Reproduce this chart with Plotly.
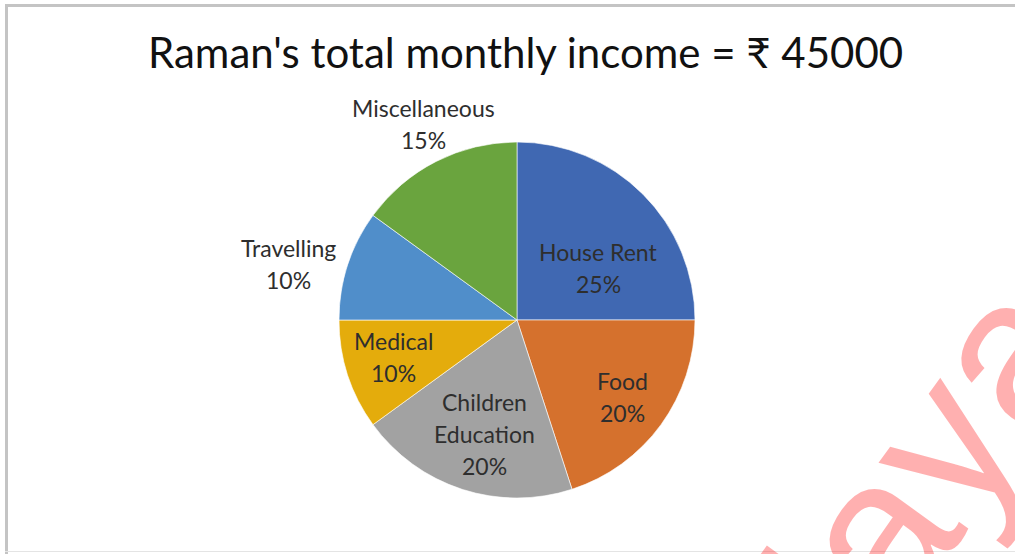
import plotly.graph_objects as go

# Expense shares of the monthly income (percent)
categories = ["House Rent", "Food", "Children Education", "Medical", "Travelling", "Miscellaneous"]
shares = [25, 20, 20, 10, 10, 15]
colors = ["#4068B2", "#D5712D", "#A2A2A2", "#E4AC0C", "#508ECA", "#6AA43E"]

# Label lines and their anchor points (pixels) for each category
label_lines = {
    "House Rent": ["House Rent"],
    "Food": ["Food"],
    "Children Education": ["Children", "Education"],
    "Medical": ["Medical"],
    "Travelling": ["Travelling"],
    "Miscellaneous": ["Miscellaneous"],
}
label_pos = {
    "House Rent": (598, 252),
    "Food": (622, 381),
    "Children Education": (484, 402),
    "Medical": (393, 341),
    "Travelling": (288, 248),
    "Miscellaneous": (423, 108),
}

W, H = 1015, 554
CX, CY, R = 517, 320, 178
LINE_GAP = 32
FONT = "Lato, 'Open Sans', sans-serif"
TEXT_COLOR = "#2e2e2e"

fig = go.Figure(
    go.Pie(
        labels=categories,
        values=shares,
        sort=False,
        direction="clockwise",
        rotation=0,
        marker=dict(colors=colors, line=dict(color="rgba(255,255,255,0.6)", width=1)),
        textinfo="none",
        hoverinfo="label+percent",
        domain=dict(x=[(CX - R) / W, (CX + R) / W], y=[1 - (CY + R) / H, 1 - (CY - R) / H]),
    )
)

annotations = []
for cat, val in zip(categories, shares):
    x0, y0 = label_pos[cat]
    lines = label_lines[cat] + [f"{val}%"]
    for i, txt in enumerate(lines):
        annotations.append(dict(
            x=x0 / W, y=1 - (y0 + i * LINE_GAP) / H, xref="paper", yref="paper",
            text=txt, showarrow=False, xanchor="center", yanchor="middle",
            font=dict(family=FONT, size=23, color=TEXT_COLOR),
        ))

# Title
annotations.append(dict(
    x=525 / W, y=1 - 52 / H, xref="paper", yref="paper",
    text="Raman's total monthly income = ₹ 45000", showarrow=False,
    xanchor="center", yanchor="middle",
    font=dict(family=FONT, size=42, color="#111111"),
))

# Watermark
annotations.append(dict(
    x=926 / W, y=1 - 462 / H, xref="paper", yref="paper",
    text="laya", showarrow=False, textangle=-54,
    xanchor="center", yanchor="middle",
    font=dict(family="'Liberation Sans', Arial, sans-serif", size=212, color="rgba(255,0,0,0.31)"),
))

shapes = [
    dict(type="line", xref="paper", yref="paper", x0=6.5 / W, x1=6.5 / W, y0=0, y1=1 - 4 / H,
         line=dict(color="#c4c4c4", width=3)),
    dict(type="line", xref="paper", yref="paper", x0=5 / W, x1=1, y0=1 - 5.5 / H, y1=1 - 5.5 / H,
         line=dict(color="#c4c4c4", width=3)),
    dict(type="line", xref="paper", yref="paper", x0=5 / W, x1=1, y0=1 - 551.5 / H, y1=1 - 551.5 / H,
         line=dict(color="#e4e4e4", width=1)),
]

fig.update_layout(
    width=W, height=H,
    margin=dict(l=0, r=0, t=0, b=0),
    paper_bgcolor="white", plot_bgcolor="white",
    showlegend=False,
    annotations=annotations,
    shapes=shapes,
)

fig.write_html("out.html")
